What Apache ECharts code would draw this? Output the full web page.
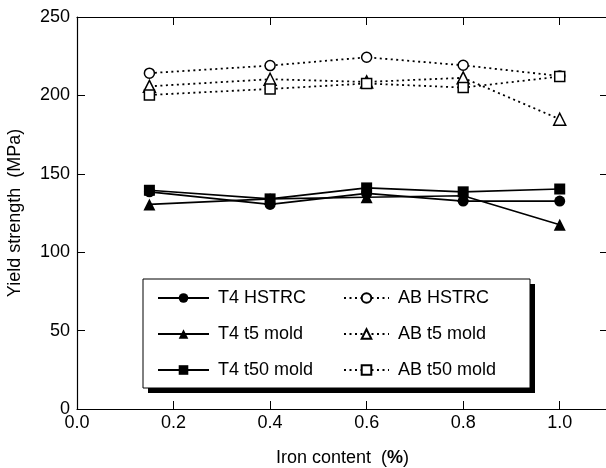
<!DOCTYPE html>
<html><head><meta charset="utf-8">
<script src="https://cdn.jsdelivr.net/npm/echarts@6/dist/echarts.min.js"></script>
<style>html,body{margin:0;padding:0;background:#fff}#c{width:606px;height:468px}</style>
</head><body><div id="c"></div>
<script>
const xVals = [0.15, 0.4, 0.6, 0.8, 1.0];
const t4HSTRC = [138.5, 130.5, 137.5, 132.6, 132.6];
const t4T5 = [130.5, 134.0, 135.0, 136.0, 117.5];
const t4T50 = [139.5, 134.0, 141.0, 138.5, 140.3];
const abHSTRC = [214.2, 219.0, 224.3, 219.2, 212.4];
const abT5 = [205.8, 210.3, 208.6, 211.2, 184.8];
const abT50 = [200.3, 204.1, 207.6, 205.0, 212.0];
const seriesNames = ['T4 HSTRC','T4 t5 mold','T4 t50 mold','AB HSTRC','AB t5 mold','AB t50 mold'];

const FONT = 'Liberation Sans, Arial, sans-serif';
const pairs = v => xVals.map((x,i)=>[x,v[i]]);

function solid(name, data, symbol, size){
  return {name, type:'line', data:pairs(data), symbol, symbolSize:size,
    lineStyle:{color:'#000', width:1.6, type:'solid'},
    itemStyle:{color:'#000', borderColor:'#000', borderWidth:0},
    z:3, animation:false};
}
function dotted(name, data, symbol, size){
  return {name, type:'line', data:pairs(data), symbol, symbolSize:size,
    lineStyle:{color:'#000', width:1.8, type:[2,3.5]},
    itemStyle:{color:'#fff', borderColor:'#000', borderWidth:1.5},
    z:2, animation:false};
}
const mkLine = () => ({show:true, onZero:false, lineStyle:{color:'#000', width:1.2}});
const mkTick = () => ({show:true, inside:true, length:8, lineStyle:{color:'#000', width:1}});
const legendText = {color:'#000', fontFamily:FONT, fontSize:18, lineHeight:18, padding:[0,0,0,4]};

const chart = echarts.init(document.getElementById('c'));
chart.setOption({
  animation:false,
  grid:{left:77, top:17, width:531, height:392, containLabel:false, outerBoundsMode:'none'},
  xAxis:[
    {type:'value', min:0, max:1.1, interval:0.2, position:'bottom',
     axisLine:mkLine(), axisTick:mkTick(), splitLine:{show:false},
     axisLabel:{color:'#000', fontFamily:FONT, fontSize:18, margin:5, showMaxLabel:false, formatter:v=>v.toFixed(1)},
     name:'Iron content  ({b|%})', nameLocation:'middle', nameGap:40,
     nameTextStyle:{color:'#000', fontFamily:FONT, fontSize:18, rich:{b:{fontWeight:'bold', fontSize:18, fontFamily:FONT, color:'#000'}}}},
    {type:'value', min:0, max:1.1, interval:0.2, position:'top',
     axisLine:mkLine(), axisTick:mkTick(), axisLabel:{show:false}, splitLine:{show:false}}
  ],
  yAxis:[
    {type:'value', min:0, max:250, interval:50, position:'left',
     axisLine:mkLine(), axisTick:mkTick(), splitLine:{show:false},
     axisLabel:{color:'#000', fontFamily:FONT, fontSize:18, margin:7},
     name:'Yield strength  (MPa)', nameLocation:'middle', nameGap:53,
     nameTextStyle:{color:'#000', fontFamily:FONT, fontSize:18}},
    {type:'value', min:0, max:250, interval:50, position:'right',
     axisLine:mkLine(), axisTick:mkTick(), axisLabel:{show:false}, splitLine:{show:false}}
  ],
  legend:[
    {orient:'vertical', left:157, top:289, padding:0, itemWidth:51, itemHeight:12, itemGap:18, z:20,
     data:seriesNames.slice(0,3), textStyle:legendText},
    {orient:'vertical', left:343, top:289, padding:0, itemWidth:45, itemHeight:12, itemGap:18, z:20,
     data:seriesNames.slice(3), textStyle:legendText}
  ],
  graphic:[
    {type:'rect', shape:{x:148, y:284, width:387, height:109}, style:{fill:'#000'}, z:5},
    {type:'rect', shape:{x:143, y:279, width:387, height:109}, style:{fill:'#fff', stroke:'#000', lineWidth:1}, z:6}
  ],
  series:[
    solid(seriesNames[0], t4HSTRC, 'circle', 11),
    solid(seriesNames[1], t4T5, 'triangle', 12),
    solid(seriesNames[2], t4T50, 'rect', 11),
    dotted(seriesNames[3], abHSTRC, 'circle', 10),
    dotted(seriesNames[4], abT5, 'triangle', 12),
    dotted(seriesNames[5], abT50, 'rect', 10)
  ]
});
</script></body></html>
